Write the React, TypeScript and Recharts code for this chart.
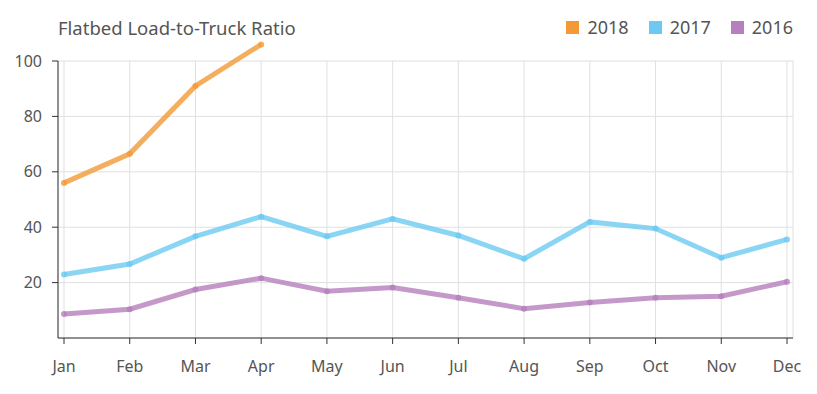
import { LineChart, Line, XAxis, YAxis, CartesianGrid } from 'recharts';

const months = ['Jan', 'Feb', 'Mar', 'Apr', 'May', 'Jun', 'Jul', 'Aug', 'Sep', 'Oct', 'Nov', 'Dec'];
const ratio2018 = [56, 66.5, 91, 106];
const ratio2017 = [22.9, 26.7, 36.7, 43.8, 36.7, 43, 37, 28.6, 41.9, 39.5, 29, 35.6];
const ratio2016 = [8.7, 10.4, 17.5, 21.6, 16.9, 18.2, 14.5, 10.6, 12.8, 14.5, 15.1, 20.3];
const yTicks = [20, 40, 60, 80, 100];

const series = [
  { key: 'y2018', label: '2018', color: '#F39A36' },
  { key: 'y2017', label: '2017', color: '#6DC9F1' },
  { key: 'y2016', label: '2016', color: '#B580BD' },
];

const data = months.map((month, i) => ({
  month,
  y2018: ratio2018[i],
  y2017: ratio2017[i],
  y2016: ratio2016[i],
}));

const font = '"Noto Sans", "Open Sans", sans-serif';

const App = () => {
  return (
    <div style={{ position: 'relative', width: 817, height: 394, fontFamily: font }}>
      <style>{`body { margin: 0; } .recharts-wrapper svg g, .recharts-wrapper svg path { clip-path: none !important; }`}</style>
      <div style={{ position: 'absolute', left: 58, top: 15, fontSize: 18.5, color: '#555' }}>
        Flatbed Load-to-Truck Ratio
      </div>
      <div style={{ position: 'absolute', right: 24, top: 15, display: 'flex', alignItems: 'center', gap: 20, fontSize: 18, color: '#555' }}>
        {series.map((s) => (
          <div key={s.key} style={{ display: 'flex', alignItems: 'center', gap: 8 }}>
            <div style={{ width: 13, height: 13, background: s.color }}></div>
            <span>{s.label}</span>
          </div>
        ))}
      </div>
      <LineChart width={817} height={394} data={data} margin={{ top: 61, right: 24, bottom: 0, left: 0 }}>
        <CartesianGrid stroke="#e0e0e0" />
        <XAxis
          dataKey="month"
          height={56}
          padding={{ left: 6, right: 6 }}
          stroke="#333"
          tickSize={6}
          tickMargin={17}
          tick={{ fill: '#555', fontSize: 16, fontFamily: font }}
          interval={0}
        />
        <YAxis
          width={58}
          domain={[0, 100]}
          ticks={yTicks}
          allowDataOverflow
          stroke="#333"
          tickSize={6}
          tickMargin={10}
          tick={{ fill: '#555', fontSize: 16, fontFamily: font }}
        />
        {series.map((s) => (
          <Line
            key={s.key}
            dataKey={s.key}
            stroke={s.color}
            strokeOpacity={0.8}
            strokeWidth={5}
            dot={{ r: 3, fill: s.color, stroke: 'none', fillOpacity: 0.8 }}
            activeDot={false}
            isAnimationActive={false}
          />
        ))}
      </LineChart>
    </div>
  );
};

export default App;
